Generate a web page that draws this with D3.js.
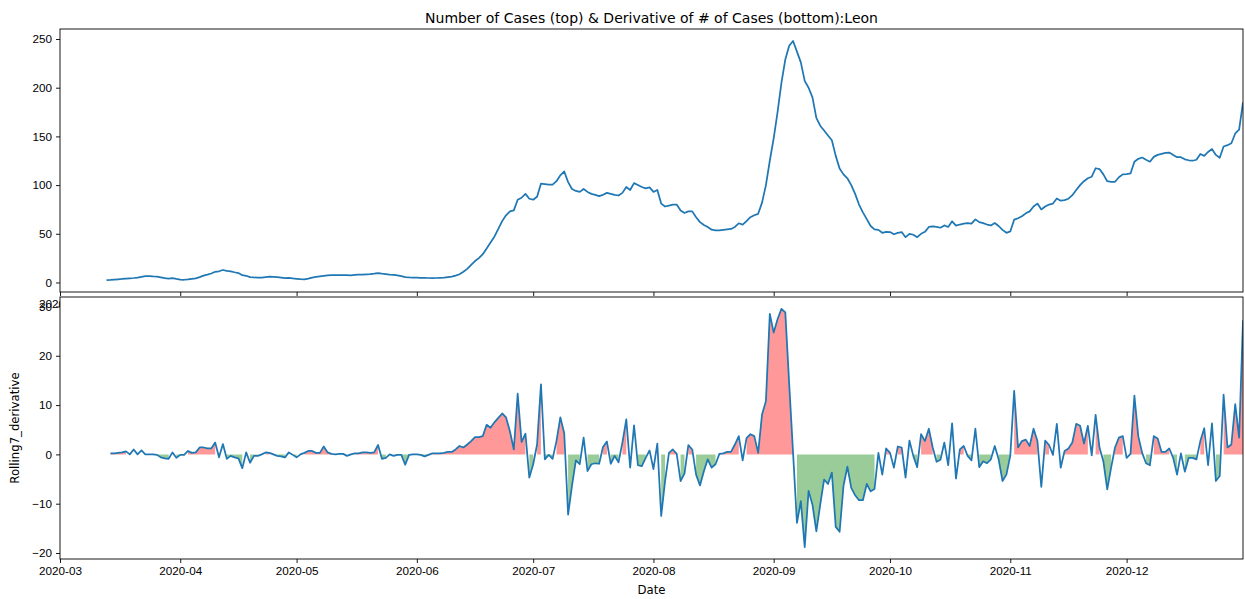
<!DOCTYPE html>
<html>
<head>
<meta charset="utf-8">
<script src="https://cdn.jsdelivr.net/npm/d3@7"></script>
<style>
body { margin: 0; background: #fff; }
svg { display: block; font-family: "DejaVu Sans", sans-serif; }
.tick text { font-size: 11.7px; fill: #000; }
.tick line { stroke: #000; stroke-width: 0.9; }
</style>
</head>
<body>
<script>
// data
var caseStart = '2020-03-13';
var derivStart = '2020-03-14';
var xLimits = ['2020-03-01', '2020-12-31'];

// Number of cases (7 day rolling), one value per day from caseStart
var cases = [
	2.5, 2.7, 3.0, 3.3, 3.6, 4.0, 4.3, 4.6, 5.0, 5.8, 6.5, 6.5, 6.2, 6.0, 5.3, 4.5, 4.0, 4.5, 3.6, 3.0,
	2.8, 3.2, 3.8, 4.2, 5.5, 7.0, 8.0, 9.2, 11.0, 11.5, 12.8, 12.0, 11.5, 10.5, 9.7, 7.5, 6.9, 5.5, 5.2, 5.0,
	5.0, 5.5, 6.0, 5.8, 5.5, 5.0, 4.5, 4.8, 4.2, 3.8,
	3.4, 3.2, 4.0, 5.0, 5.8, 6.3, 6.8, 7.3, 7.5, 7.6, 7.5, 7.6, 7.6, 7.4, 7.8, 8.0, 8.1, 8.3, 8.5, 9.0,
	9.7, 9.0, 8.5, 8.0, 7.8, 7.2, 6.5, 5.5, 5.2, 5.0, 4.9,
	4.8, 4.7, 4.6, 4.5, 4.6, 4.8, 5.0, 5.5, 6.0, 7.0, 8.5, 11, 14, 18, 22, 25, 29, 35, 41, 47,
	55, 63, 69, 73, 74, 85, 87, 91, 86, 85,
	88, 101.5, 101, 100.5, 100.5, 104, 110, 114, 103, 96, 94, 93, 96, 93, 91, 90, 88.6, 90, 92, 91,
	90, 89.3, 92, 98, 95, 102, 100, 98, 96.6, 97.6, 93,
	95, 81, 78, 79, 80, 80, 74, 71.4, 73, 73, 67, 62, 59, 57, 54.2, 53.5, 53.5, 54, 54.5, 55,
	57, 60.8, 59.4, 63, 67, 69, 70.5, 82, 100, 125, 148,
	175, 205, 229, 243, 248, 237, 226, 207, 200, 190, 169, 161, 156, 151, 146, 130, 117, 111, 107, 100,
	91, 80, 72, 65, 58, 54.5, 54, 51, 52, 51.8,
	49.5, 51, 51.8, 46.5, 50, 49, 46.5, 50, 52, 57, 57.6, 57, 56.2, 58.6, 57, 62.8, 58.3, 59.5, 60.5, 61,
	60.4, 64.8, 62, 61, 59.5, 58.6, 61, 58, 54, 51, 52.4,
	64.5, 66, 68, 71, 73, 78, 81, 75, 78, 80, 81, 86.3, 84, 84.5, 86, 89.6, 95, 100, 104, 107,
	108.6, 117.3, 116.5, 111, 104, 103.4, 103.4, 108, 111, 111.3,
	112, 124, 127, 128.3, 126, 124, 129, 131, 132, 133, 133.4, 131, 128.6, 128.6, 126.5, 125.5, 125, 126, 132, 130,
	134, 137, 131, 128, 139.6, 141, 143, 153, 157, 185
];

// Rolling7_derivative, one value per day from derivStart
var deriv = [
	0.2, 0.2, 0.3, 0.4, 0.6, 0.0, 1.0, 0.0, 0.8, 0.0, 0.0, 0.0, -0.1, -0.6, -0.8, -0.9, 0.4, -0.7, -0.1,
	-0.1, 0.7, 0.3, 0.4, 1.4, 1.4, 1.2, 1.2, 2.4, -0.6, 2.1, -0.9, -0.3, -0.6, -0.8, -2.8, 0.4, -1.7, -0.3, -0.3,
	0.0, 0.4, 0.3, 0.0, -0.3, -0.4, -0.6, 0.4, -0.1, -0.6,
	0.0, 0.3, 0.7, 0.7, 0.3, 0.3, 1.6, 0.4, 0.1, 0.0, 0.1, 0.1, -0.3, 0.0, 0.2, 0.2, 0.4, 0.4, 0.3, 0.4,
	1.9, -0.9, -0.7, 0.0, -0.3, -0.1, -0.1, -2.1, -0.1, 0.0, 0.0,
	-0.1, -0.4, -0.1, 0.2, 0.2, 0.2, 0.3, 0.5, 0.5, 1.0, 1.7, 1.4, 2.0, 2.7, 3.5, 3.5, 3.7, 6.0, 5.4, 6.5,
	7.4, 8.3, 7.5, 4.7, 1.0, 12.3, 2.5, 4.2, -4.7, -2.0,
	2.0, 14.2, -1.0, -0.1, -0.9, 2.7, 7.5, 4.3, -12.2, -6.4, -1.2, -2.0, 3.4, -3.4, -2.0, -1.8, -1.9, 1.5, 2.6, -1.9,
	-0.3, -1.6, 2.4, 7.1, -2.7, 5.9, -2.2, -2.4, -0.7, 0.8, -3.0,
	2.2, -12.5, -5.4, 0.3, 1.0, 0.1, -5.4, -3.9, 1.9, 1.0, -4.1, -6.3, -3.4, -1.0, -2.7, -2.0, 0.1, 0.2, 0.5, 0.5,
	2.0, 3.7, -1.2, 3.3, 4.1, 3.7, 0.3, 8.1, 10.8, 28.5, 24.7,
	27.4, 29.5, 28.8, 14.3, 0.3, -13.9, -9.5, -18.8, -7.4, -10.2, -15.6, -10.2, -5.1, -6.0, -3.7, -14.7, -15.7, -6.4, -2.5, -6.8,
	-8.3, -9.3, -9.3, -6.0, -7.5, -7.0, 0.3, -4.1, 1.2, 0.3,
	-2.7, 1.6, 1.4, -4.7, 2.8, -0.3, -2.6, 4.1, 2.7, 5.2, 1.4, -1.5, -1.1, 2.4, -2.2, 6.3, -4.9, 1.0, 1.7, -0.3,
	-1.2, 5.2, -2.6, -1.4, -1.8, -1.0, 1.7, -1.0, -5.4, -4.1, -0.3,
	12.9, 1.4, 2.7, 3.0, 1.7, 5.2, 2.7, -6.6, 2.8, 1.9, -0.1, 6.2, -2.7, 0.7, 1.2, 2.4, 6.2, 5.8, 2.2, 5.8,
	-0.2, 8.0, 1.4, -1.4, -7.1, -2.7, 1.4, 3.4, 3.7, -0.7,
	0.1, 11.9, 3.7, 0.3, -1.8, -2.2, 3.7, 3.2, 0.5, 0.5, 1.2, -0.7, -4.1, 0.2, -3.5, -0.7, -0.7, -1.0, 2.7, 5.3,
	-2.2, 6.3, -5.4, -4.4, 12.1, 1.4, 2.0, 10.2, 3.4, 27.2
];

var topTicks = [0, 50, 100, 150, 200, 250];
var bottomTicks = [-20, -10, 0, 10, 20, 30];
var titleText = 'Number of Cases (top) & Derivative of # of Cases (bottom):Leon';
var yLabelText = 'Rolling7_derivative';
var xLabelText = 'Date';

var parseDay = d3.timeParse('%Y-%m-%d');

var caseData = cases.map(function (v, i) {
	return { date: d3.timeDay.offset(parseDay(caseStart), i), value: v };
});
var derivData = deriv.map(function (v, i) {
	return { date: d3.timeDay.offset(parseDay(derivStart), i), value: v };
});

// chart
var W = 1245, H = 599;
var left = 60, right = 1243;
var top1 = { y0: 29, y1: 292 };
var top2 = { y0: 297, y1: 559 };
var tickLen = 4, tickPad = 4;

var svg = d3.select('body').append('svg')
	.attr('width', W)
	.attr('height', H);

var x = d3.scaleTime()
	.domain(xLimits.map(parseDay))
	.range([left, right]);

// matplotlib style 5% margins
function padded (arr) {
	var ext = d3.extent(arr);
	var pad = (ext[1] - ext[0]) * 0.05;
	return [ext[0] - pad, ext[1] + pad];
}

var y1 = d3.scaleLinear().domain(padded(cases)).range([top1.y1, top1.y0]);
var y2 = d3.scaleLinear().domain(padded(deriv)).range([top2.y1, top2.y0]);

var monthTicks = d3.timeMonth.every(1);

// ---- top axes
var g1 = svg.append('g');
g1.append('rect')
	.attr('x', left).attr('y', top1.y0)
	.attr('width', right - left).attr('height', top1.y1 - top1.y0)
	.attr('fill', '#fff');

g1.append('defs').append('clipPath').attr('id', 'clip1')
	.append('rect')
	.attr('x', left).attr('y', top1.y0)
	.attr('width', right - left).attr('height', top1.y1 - top1.y0);

g1.append('path')
	.datum(caseData)
	.attr('fill', 'none')
	.attr('stroke', '#1f77b4')
	.attr('stroke-width', 1.75)
	.attr('stroke-linejoin', 'round')
	.attr('clip-path', 'url(#clip1)')
	.attr('d', d3.line()
		.x(function (d) { return x(d.date); })
		.y(function (d) { return y1(d.value); }));

g1.append('g')
	.attr('transform', 'translate(0,' + top1.y1 + ')')
	.call(d3.axisBottom(x).ticks(monthTicks).tickFormat(d3.timeFormat('%Y-%m'))
		.tickSize(tickLen).tickSizeOuter(0).tickPadding(tickPad))
	.call(function (g) { g.select('.domain').remove(); });

g1.append('g')
	.attr('transform', 'translate(' + left + ',0)')
	.call(d3.axisLeft(y1).tickValues(topTicks).tickSize(tickLen).tickSizeOuter(0).tickPadding(tickPad))
	.call(function (g) { g.select('.domain').remove(); });

g1.append('rect')
	.attr('x', left).attr('y', top1.y0)
	.attr('width', right - left).attr('height', top1.y1 - top1.y0)
	.attr('fill', 'none').attr('stroke', '#000').attr('stroke-width', 0.9);

svg.append('text')
	.attr('x', (left + right) / 2)
	.attr('y', top1.y0 - 6)
	.attr('text-anchor', 'middle')
	.attr('font-size', 14)
	.text(titleText);

// ---- bottom axes (drawn over the top axis labels, like matplotlib)
var g2 = svg.append('g');
g2.append('rect')
	.attr('x', left).attr('y', top2.y0)
	.attr('width', right - left).attr('height', top2.y1 - top2.y0)
	.attr('fill', '#fff');

g2.append('defs').append('clipPath').attr('id', 'clip2')
	.append('rect')
	.attr('x', left).attr('y', top2.y0)
	.attr('width', right - left).attr('height', top2.y1 - top2.y0);

// fill_between(where=...) without interpolation: one polygon per run
function runs (data, test) {
	var out = [], cur = [];
	data.forEach(function (d) {
		if (test(d.value)) {
			cur.push(d);
		} else {
			if (cur.length) out.push(cur);
			cur = [];
		}
	});
	if (cur.length) out.push(cur);
	return out;
}

var area = d3.area()
	.x(function (d) { return x(d.date); })
	.y0(y2(0))
	.y1(function (d) { return y2(d.value); });

var fills = g2.append('g').attr('clip-path', 'url(#clip2)');
fills.selectAll('path.up')
	.data(runs(derivData, function (v) { return v > 0; }))
	.enter().append('path')
	.attr('class', 'up')
	.attr('fill', 'red')
	.attr('fill-opacity', 0.4)
	.attr('d', area);
fills.selectAll('path.down')
	.data(runs(derivData, function (v) { return v < 0; }))
	.enter().append('path')
	.attr('class', 'down')
	.attr('fill', 'green')
	.attr('fill-opacity', 0.4)
	.attr('d', area);

g2.append('path')
	.datum(derivData)
	.attr('fill', 'none')
	.attr('stroke', '#1f77b4')
	.attr('stroke-width', 1.75)
	.attr('stroke-linejoin', 'round')
	.attr('clip-path', 'url(#clip2)')
	.attr('d', d3.line()
		.x(function (d) { return x(d.date); })
		.y(function (d) { return y2(d.value); }));

g2.append('g')
	.attr('transform', 'translate(0,' + top2.y1 + ')')
	.call(d3.axisBottom(x).ticks(monthTicks).tickFormat(d3.timeFormat('%Y-%m'))
		.tickSize(tickLen).tickSizeOuter(0).tickPadding(tickPad))
	.call(function (g) { g.select('.domain').remove(); });

g2.append('g')
	.attr('transform', 'translate(' + left + ',0)')
	.call(d3.axisLeft(y2).tickValues(bottomTicks).tickFormat(d3.format('d'))
		.tickSize(tickLen).tickSizeOuter(0).tickPadding(tickPad))
	.call(function (g) { g.select('.domain').remove(); });

g2.append('rect')
	.attr('x', left).attr('y', top2.y0)
	.attr('width', right - left).attr('height', top2.y1 - top2.y0)
	.attr('fill', 'none').attr('stroke', '#000').attr('stroke-width', 0.9);

svg.append('text')
	.attr('x', (left + right) / 2)
	.attr('y', 594)
	.attr('text-anchor', 'middle')
	.attr('font-size', 11.7)
	.text(xLabelText);

svg.append('text')
	.attr('transform', 'translate(19,' + ((top2.y0 + top2.y1) / 2) + ') rotate(-90)')
	.attr('text-anchor', 'middle')
	.attr('font-size', 11.7)
	.text(yLabelText);
</script>
</body>
</html>
